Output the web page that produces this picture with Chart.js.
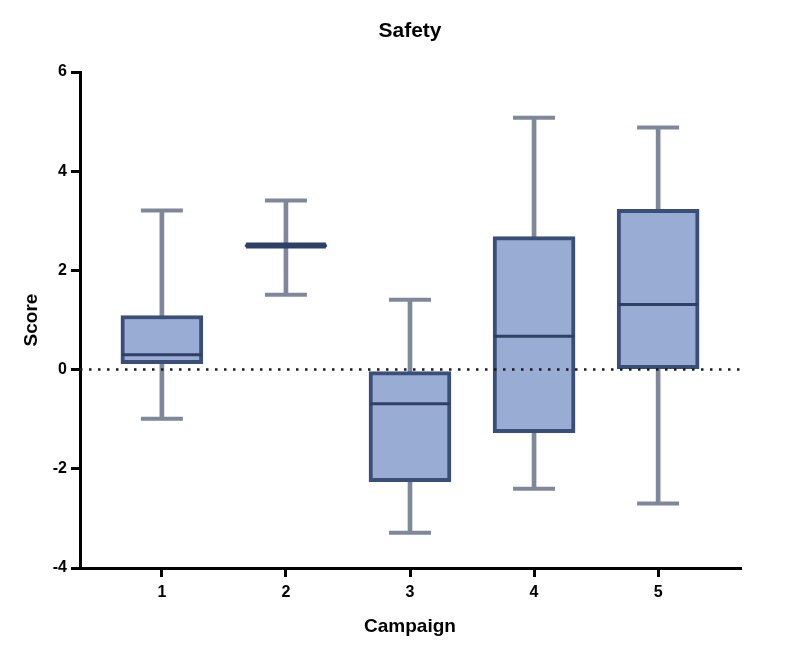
<!DOCTYPE html>
<html lang="en">
<head>
<meta charset="UTF-8">
<title>Safety</title>
<script src="https://cdn.jsdelivr.net/npm/chart.js@4.4.1/dist/chart.umd.min.js"></script>
<style>
  html, body { margin: 0; padding: 0; background: #fff; }
  #wrap { width: 800px; height: 654px; }
</style>
</head>
<body>
<div id="wrap"><canvas id="chart"></canvas></div>
<script>
// box plot values, one entry per campaign
const campaigns = [1, 2, 3, 4, 5];
const mins    = [-0.99, 1.51, -3.29, -2.40, -2.70];
const q1s     = [0.12, 2.48, -2.26, -1.27, 0.02];
const medians = [0.30, 2.50, -0.69, 0.67, 1.31];
const q3s     = [1.09, 2.52, -0.04, 2.68, 3.23];
const maxs    = [3.21, 3.41, 1.41, 5.08, 4.88];
const yTicks  = [-4, -2, 0, 2, 4, 6];

const boxFill = '#98acd4', boxEdge = '#3a4e78', whisker = '#7f889b', medianCol = '#2e4066';
const font = 'Liberation Sans, Arial, sans-serif';

const whiskerData = campaigns.map((c, i) => ({ x: c, y: [mins[i], maxs[i]] }));
const boxData = campaigns.map((c, i) => ({ x: c, y: [q1s[i], q3s[i]] }));
const capData = campaigns.flatMap((c, i) => [{ x: c, y: maxs[i] }, { x: c, y: mins[i] }]);
const medData = campaigns.map((c, i) => ({ x: c, y: medians[i] }));

const axisGrid = { drawOnChartArea: false, drawTicks: true, tickLength: 9, color: '#000', lineWidth: 3, offset: false };

new Chart(document.getElementById('chart'), {
  type: 'bar',
  data: {
    datasets: [
      // dotted reference line at zero
      { type: 'line', data: [{ x: 0.34, y: 0 }, { x: 5.66, y: 0 }], borderColor: '#1a1a1a', borderWidth: 2.5,
        borderDash: [2.5, 6.5], pointRadius: 0, order: -1 },
      { type: 'line', data: medData, showLine: false, pointStyle: 'line', pointRadius: 40,
        pointBorderWidth: [3, 6, 3, 3, 3], borderColor: medianCol, pointBorderColor: medianCol, order: 0 },
      { type: 'line', data: capData, showLine: false, pointStyle: 'line', pointRadius: 21,
        pointBorderWidth: 4, borderColor: whisker, pointBorderColor: whisker, order: 1 },
      { type: 'bar', data: boxData, grouped: false, barThickness: 82, backgroundColor: boxFill,
        borderColor: boxEdge, borderWidth: 4, borderSkipped: false, order: 2 },
      { type: 'bar', data: whiskerData, grouped: false, barThickness: 4, backgroundColor: whisker,
        borderWidth: 0, order: 3 }
    ]
  },
  options: {
    responsive: true,
    maintainAspectRatio: false,
    animation: false,
    layout: { padding: { left: 0, right: 60, top: 0, bottom: 0 } },
    plugins: { legend: { display: false }, tooltip: { enabled: false } },
    scales: {
      x: {
        type: 'linear', position: 'bottom', min: 0.34, max: 5.66, offset: false,
        afterBuildTicks: s => { s.ticks = campaigns.map(v => ({ value: v })); },
        afterFit: s => { s.height = 86; },
        ticks: { color: '#000', padding: 6, font: { family: font, size: 16, weight: 'bold' } },
        grid: axisGrid,
        border: { color: '#000', width: 3 },
        title: { display: true, text: 'Campaign', color: '#000', padding: { bottom: 16 },
          font: { family: font, size: 19, weight: 'bold' } }
      },
      top: {
        type: 'linear', position: 'top', display: true, offset: false,
        afterFit: s => { s.height = 72; },
        ticks: { display: false },
        grid: { display: false },
        border: { display: false },
        title: { display: true, text: 'Safety', color: '#000', padding: { top: 19 },
          font: { family: font, size: 21, weight: 'bold' } }
      },
      y: {
        min: -4, max: 6,
        afterBuildTicks: s => { s.ticks = yTicks.map(v => ({ value: v })); },
        afterFit: s => { s.width = 80; },
        ticks: { color: '#000', padding: 4, font: { family: font, size: 16, weight: 'bold' } },
        grid: axisGrid,
        border: { color: '#000', width: 3 },
        title: { display: true, text: 'Score', color: '#000', padding: { top: 20 },
          font: { family: font, size: 19, weight: 'bold' } }
      }
    }
  }
});
</script>
</body>
</html>
